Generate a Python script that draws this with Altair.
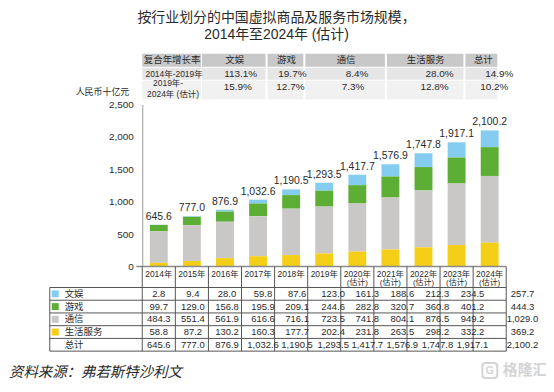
import altair as alt
import pandas as pd

# ---------------- data ----------------
years = ["2014年", "2015年", "2016年", "2017年", "2018年", "2019年",
         "2020年", "2021年", "2022年", "2023年", "2024年"]
estimated = [False, False, False, False, False, False, True, True, True, True, True]
est_label = "(估计)"
ent = [2.8, 9.4, 28.0, 59.8, 87.6, 123.0, 161.3, 188.6, 212.3, 234.5, 257.7]
game = [99.7, 129.0, 156.8, 195.9, 209.1, 244.6, 282.8, 320.7, 360.8, 401.2, 444.3]
telecom = [484.3, 551.4, 561.9, 616.6, 716.1, 723.5, 741.8, 804.1, 876.5, 949.2, 1029.0]
life = [58.8, 87.2, 130.2, 160.3, 177.7, 202.4, 231.8, 263.5, 298.2, 332.2, 369.2]
total = [645.6, 777.0, 876.9, 1032.6, 1190.5, 1293.5, 1417.7, 1576.9, 1747.8, 1917.1, 2100.2]
series_names = ["文娱", "游戏", "通信", "生活服务"]
series_colors = ["#84CDF0", "#5CAE35", "#C9C8C6", "#F4CE17"]
total_name = "总计"
cagr_header = "复合年增长率"
cagr_cats = ["文娱", "游戏", "通信", "生活服务", "总计"]
cagr_period1 = "2014年-2019年"
cagr_period2 = ["2019年-", "2024年 (估计)"]
cagr_2014_2019 = [113.1, 19.7, 8.4, 28.0, 14.9]
cagr_2019_2024 = [15.9, 12.7, 7.3, 12.8, 10.2]
y_ticks = [0, 500, 1000, 1500, 2000, 2500]
title_lines = ["按行业划分的中国虚拟商品及服务市场规模，", "2014年至2024年 (估计)"]
unit_label = "人民币十亿元"
source_label = "资料来源：弗若斯特沙利文"
watermark = "格隆汇"

# ---------------- layout ----------------
W, H = 366, 163
PAD = {"left": 135, "top": 96, "right": 40, "bottom": 118}
FONT = "Liberation Sans, Noto Sans CJK SC"
TXT = "#2a2a2a"
LINE = "#555555"
row_names = series_names + [total_name]
xscale = alt.Scale(paddingInner=0, paddingOuter=0)
yrow = alt.Scale(type="band", domain=row_names, range=[184, 248], paddingInner=0, paddingOuter=0)
col_shift = [0, 1, 2, 5, 6, 9, 10, 12, 14, 16, 33]
color_enc = alt.Color("cat:N", scale=alt.Scale(domain=series_names, range=series_colors), legend=None)

one = pd.DataFrame({"k": [0]})

# ---------------- frames ----------------
bar_rows = []
for i, yr in enumerate(years):
    for k, (name, vals) in enumerate(zip(series_names, [ent, game, telecom, life])):
        bar_rows.append({"year": yr, "cat": name, "value": vals[i], "ord": 3 - k})
df_bar = pd.DataFrame(bar_rows)

df_tot = pd.DataFrame({"year": years, "total": total,
                       "label": [f"{v:,.1f}" for v in total],
                       "est": [est_label if e else "" for e in estimated]})

tab_rows = []
for i, yr in enumerate(years):
    for name, vals in zip(row_names, [ent, game, telecom, life, total]):
        tab_rows.append({"year": yr, "row": name, "label": f"{vals[i]:,.1f}"})
df_tab = pd.DataFrame(tab_rows)
df_rows = pd.DataFrame({"row": row_names,
                        "cat": series_names + [""]})

layers = []

# bars
layers.append(alt.Chart(df_bar).mark_bar(size=18).encode(
    x=alt.X("year:N", scale=xscale, axis=None),
    y=alt.Y("value:Q", stack="zero",
            scale=alt.Scale(domain=[0, 2500], nice=False),
            axis=alt.Axis(values=y_ticks, format=",.0f", grid=False, ticks=False,
                          domainColor="#9a9a9a", labelFontSize=10, labelPadding=9,
                          labelColor=TXT, labelFont=FONT, title=None)),
    color=color_enc,
    order=alt.Order("ord:Q", sort="ascending"),
))

# total labels
layers.append(alt.Chart(df_tot).mark_text(baseline="bottom", dy=-3, fontSize=10.5, font=FONT, color=TXT).encode(
    x=alt.X("year:N", scale=xscale, axis=None),
    y=alt.Y("total:Q", scale=alt.Scale(domain=[0, 2500], nice=False), axis=None),
    text="label:N",
))

# x axis line
layers.append(alt.Chart(one).mark_rule(color="#8a8a8a", strokeWidth=1.5).encode(
    x=alt.value(-6), x2=alt.value(W), y=alt.value(H)))

# year labels
layers.append(alt.Chart(df_tot).mark_text(fontSize=8.5, font=FONT, color=TXT, baseline="middle").encode(
    x=alt.X("year:N", scale=xscale, axis=None), y=alt.value(170), text="year:N"))
layers.append(alt.Chart(df_tot).mark_text(fontSize=8, font=FONT, color=TXT, baseline="middle").encode(
    x=alt.X("year:N", scale=xscale, axis=None), y=alt.value(179), text="est:N"))

# table grid: vertical lines
layers.append(alt.Chart(df_tot).mark_rule(color=LINE, strokeWidth=1).encode(
    x=alt.X("year:N", scale=xscale, axis=None, bandPosition=0),
    y=alt.value(H), y2=alt.value(248)))
layers.append(alt.Chart(df_tot).transform_filter(alt.datum.year == years[-1]).mark_rule(color=LINE, strokeWidth=1).encode(
    x=alt.X("year:N", scale=xscale, axis=None, bandPosition=1),
    y=alt.value(H), y2=alt.value(248)))
layers.append(alt.Chart(one).mark_rule(color=LINE, strokeWidth=1).encode(
    x=alt.value(-93), y=alt.value(184), y2=alt.value(248)))
# horizontal lines
layers.append(alt.Chart(df_rows).mark_rule(color=LINE, strokeWidth=1).encode(
    y=alt.Y("row:N", scale=yrow, axis=None, bandPosition=0),
    x=alt.value(-93), x2=alt.value(W)))
layers.append(alt.Chart(df_rows).transform_filter(alt.datum.row == total_name).mark_rule(color=LINE, strokeWidth=1).encode(
    y=alt.Y("row:N", scale=yrow, axis=None, bandPosition=1),
    x=alt.value(-93), x2=alt.value(W)))

# legend squares and row labels
layers.append(alt.Chart(df_rows).transform_filter(alt.datum.cat != "").mark_square(size=49, opacity=1).encode(
    x=alt.value(-87.5), y=alt.Y("row:N", scale=yrow, axis=None), color=color_enc))
layers.append(alt.Chart(df_rows).mark_text(align="left", baseline="middle", fontSize=9.5, font=FONT, color=TXT).encode(
    x=alt.value(-78), y=alt.Y("row:N", scale=yrow, axis=None), text="row:N"))

# table values
for i, yr in enumerate(years):
    layers.append(alt.Chart(df_tab).transform_filter(alt.datum.year == yr).mark_text(
        baseline="middle", dx=col_shift[i], fontSize=9.5, font=FONT, color=TXT).encode(
        x=alt.X("year:N", scale=xscale, axis=None),
        y=alt.Y("row:N", scale=yrow, axis=None), text="label:N"))

# ---------------- CAGR table ----------------
cagr_cols_x = [(0, 59), (60, 124), (126, 162), (164, 244), (246, 323), (325, 357)]
cagr_rows_y = [(-51, -38), (-37, -25), (-24, -5)]
cagr_fill = ["#C8C8C8", "#E6E6E6", "#F1F1F1"]
for (y0, y1), fill in zip(cagr_rows_y, cagr_fill):
    for (x0, x1) in cagr_cols_x:
        layers.append(alt.Chart(one).mark_rect(color=fill).encode(
            x=alt.value(x0), x2=alt.value(x1), y=alt.value(y0), y2=alt.value(y1)))

hdr_x = [30, 93, 145, 205, 285, 343]
hdr_df = pd.DataFrame({"t": [cagr_header] + cagr_cats})
for i in range(len(hdr_x)):
    layers.append(alt.Chart(hdr_df.iloc[[i]]).mark_text(fontSize=9.5, font=FONT, color=TXT, baseline="middle").encode(
        x=alt.value(hdr_x[i]), y=alt.value(-44.5), text="t:N"))

p_df = pd.DataFrame({"t": [cagr_period1] + cagr_period2})
for i, (px, py) in enumerate([(32, -31), (26, -21.5), (31, -10.5)]):
    layers.append(alt.Chart(p_df.iloc[[i]]).mark_text(fontSize=8.5, font=FONT, color=TXT, baseline="middle").encode(
        x=alt.value(px), y=alt.value(py), text="t:N"))

v1_x = [99, 151, 216, 299, 359]
v2_x = [96, 149, 212, 294, 354]
cagr_df = pd.DataFrame({"cat": cagr_cats,
                        "a": [f"{v:.1f}%" for v in cagr_2014_2019],
                        "b": [f"{v:.1f}%" for v in cagr_2019_2024]})
for i in range(len(cagr_cats)):
    layers.append(alt.Chart(cagr_df.iloc[[i]]).mark_text(fontSize=10, font=FONT, color=TXT, baseline="middle").encode(
        x=alt.value(v1_x[i]), y=alt.value(-31), text="a:N"))
    layers.append(alt.Chart(cagr_df.iloc[[i]]).mark_text(fontSize=10, font=FONT, color=TXT, baseline="middle").encode(
        x=alt.value(v2_x[i]), y=alt.value(-18), text="b:N"))

# ---------------- titles / notes ----------------
t_df = pd.DataFrame({"t": title_lines})
for i, py in enumerate([-87, -70]):
    layers.append(alt.Chart(t_df.iloc[[i]]).mark_text(fontSize=14, font=FONT, color=TXT, baseline="middle").encode(
        x=alt.value(135), y=alt.value(py), text="t:N"))

note_df = pd.DataFrame({"u": [unit_label], "s": [source_label], "w": [watermark], "g": ["G"]})
layers.append(alt.Chart(note_df).mark_text(fontSize=9, font=FONT, color=TXT, baseline="middle").encode(
    x=alt.value(-40), y=alt.value(-13), text="u:N"))
layers.append(alt.Chart(note_df).mark_text(fontSize=14.5, font=FONT, color=TXT, baseline="middle",
                                           align="left", fontStyle="italic").encode(
    x=alt.value(-134), y=alt.value(270), text="s:N"))
layers.append(alt.Chart(note_df).mark_text(fontSize=15, font=FONT, color="#d4d4d4", baseline="middle",
                                           fontWeight="bold").encode(
    x=alt.value(385), y=alt.value(267), text="w:N"))
layers.append(alt.Chart(one).mark_rect(fill=None, stroke="#d4d4d4", strokeWidth=2, cornerRadius=3).encode(
    x=alt.value(342), x2=alt.value(357), y=alt.value(260), y2=alt.value(275)))
layers.append(alt.Chart(note_df).mark_text(fontSize=11, font=FONT, color="#d4d4d4", baseline="middle",
                                           fontWeight="bold").encode(
    x=alt.value(349.5), y=alt.value(267.5), text="g:N"))

chart = alt.layer(*layers).properties(
    width=W, height=H, padding=PAD, background="white",
    autosize=alt.AutoSizeParams(type="none"),
).resolve_scale(y="independent").configure_view(stroke=None)

chart.save("out.html", embed_options={"renderer": "svg", "actions": False})
